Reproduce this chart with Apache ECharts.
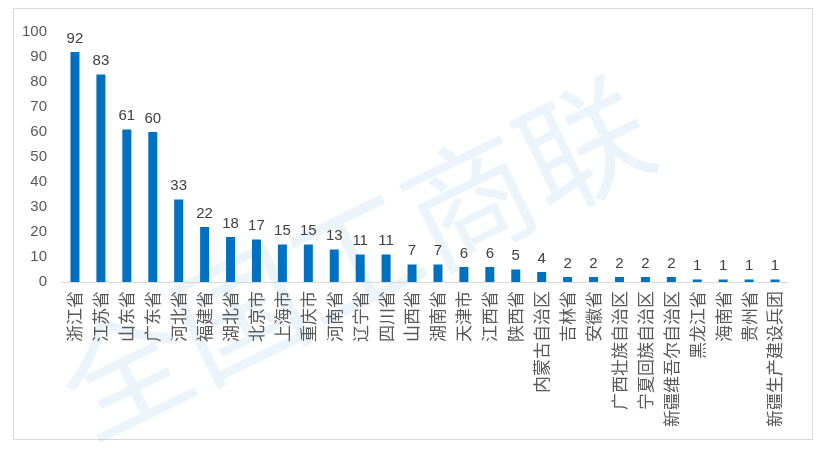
<!DOCTYPE html>
<html><head><meta charset="utf-8">
<script src="https://cdn.jsdelivr.net/npm/echarts@6/dist/echarts.min.js"></script>
<style>html,body{margin:0;padding:0;background:#fff}#c{width:829px;height:450px}</style>
</head><body><div id="c"></div>
<script>
const categories = ['浙江省','江苏省','山东省','广东省','河北省','福建省','湖北省','北京市','上海市','重庆市','河南省','辽宁省','四川省','山西省','湖南省','天津市','江西省','陕西省','内蒙古自治区','吉林省','安徽省','广西壮族自治区','宁夏回族自治区','新疆维吾尔自治区','黑龙江省','海南省','贵州省','新疆生产建设兵团'];
const values = [92,83,61,60,33,22,18,17,15,15,13,11,11,7,7,6,6,5,4,2,2,2,2,2,1,1,1,1];
const yTicks = [0,10,20,30,40,50,60,70,80,90,100];

const chart = echarts.init(document.getElementById('c'));
chart.setOption({
  animation: false,
  graphic: [
    {type:'rect', shape:{x:13.5,y:8.5,width:799,height:431}, style:{fill:'none', stroke:'#d9d9d9', lineWidth:1}, z:-10},
    {type:'text', x:95, y:455, rotation: Math.PI*0.145, style:{text:'全国工商联', font:'128px "Noto Sans CJK SC"', fill:'rgba(0,112,192,0.08)', textVerticalAlign:'bottom'}, z:-5}
  ],
  grid: {left:62, right:41, top:32, bottom:168},
  xAxis: {
    type:'category', data: categories,
    axisLine:{lineStyle:{color:'#d9d9d9', width:1}},
    axisTick:{show:false},
    axisLabel:{rotate:90, interval:0, fontSize:17, color:'#595959', fontFamily:'"Noto Sans CJK SC"', margin:9}
  },
  yAxis: {
    type:'value', min:yTicks[0], max:yTicks[yTicks.length-1], interval:10,
    axisLine:{show:false}, axisTick:{show:false}, splitLine:{show:false},
    axisLabel:{fontSize:15, color:'#595959', fontFamily:'"Liberation Sans", Arial', margin:15}
  },
  series: [{
    type:'bar', data: values, barWidth:9,
    itemStyle:{color:'#0070C0'},
    label:{show:true, position:'top', fontSize:15, color:'#404040', fontFamily:'"Liberation Sans", Arial', distance:6}
  }]
});
</script></body></html>
